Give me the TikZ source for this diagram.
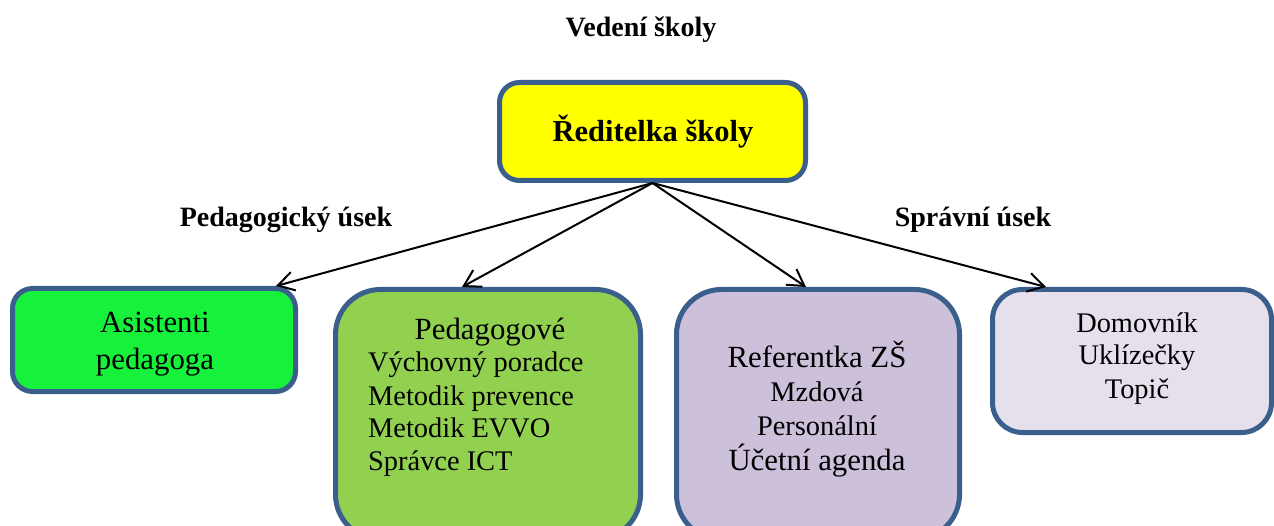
\documentclass[tikz,border=0pt]{standalone}
\usepackage{fontspec}
\setmainfont{Liberation Serif}
\usetikzlibrary{arrows.meta}
\definecolor{bord}{RGB}{58,95,140}
\definecolor{fyellow}{RGB}{255,255,0}
\definecolor{fgreen}{RGB}{22,242,60}
\definecolor{folive}{RGB}{146,208,80}
\definecolor{flilac}{RGB}{204,192,218}
\definecolor{fpale}{RGB}{229,224,236}
\begin{document}
\begin{tikzpicture}[x=1pt,y=-1pt,
  box/.style={draw=bord,line width=5pt,rounded corners=#1,inner sep=0pt},
  conn/.style={line width=2pt,-{Straight Barb[length=16pt,width=19pt,line width=2pt]}},
  hd/.style={anchor=base,font=\fontsize{28}{30}\selectfont\bfseries,inner sep=0pt},
  big/.style={anchor=base,font=\fontsize{30.8}{34}\selectfont,inner sep=0pt},
  txt/.style={anchor=base,font=\fontsize{28.4}{32}\selectfont,inner sep=0pt},
  txtl/.style={anchor=base west,font=\fontsize{28.4}{32}\selectfont,inner sep=0pt}]
\useasboundingbox (0,0) rectangle (1274,526);
\fill[white] (0,0) rectangle (1274,526);
\clip (0,0) rectangle (1274,526);

% boxes
\node[box=20pt,fill=fyellow,minimum width=306pt,minimum height=98pt] (top) at (652.5,131.5) {};
\node[box=20pt,fill=fgreen,minimum width=283pt,minimum height=103pt] (asis) at (154,340) {};
\node[box=45pt,fill=folive,minimum width=305pt,minimum height=250pt] (ped) at (488,414.5) {};
\node[box=45pt,fill=flilac,minimum width=283pt,minimum height=250pt] (ref) at (818,414.5) {};
\node[box=30pt,fill=fpale,minimum width=279pt,minimum height=143pt] (dom) at (1132,361) {};

% headings
\node[hd] (veden) at (641,37) {Vedení školy};
\node[hd] (pedu) at (286,227) {Pedagogický úsek};
\node[hd] (sprav) at (973,227) {Správní úsek};
\node[anchor=base,font=\fontsize{30.5}{33}\selectfont\bfseries,inner sep=0pt] (toptxt) at (653,142) {Ředitelka školy};

% texts
\node[big] (as1) at (155,333) {Asistenti};
\node[big] (as2) at (155,370) {pedagoga};

\node[big] (p1) at (490,340) {Pedagogové};
\node[txtl] (p2) at (368,372) {Výchovný poradce};
\node[txtl] (p3) at (368,405) {Metodik prevence};
\node[txtl] (p4) at (368,437) {Metodik EVVO};
\node[txtl] (p5) at (368,470) {Správce ICT};

\node[big] (r1) at (817,368) {Referentka ZŠ};
\node[txt] (r2) at (817,402) {Mzdová};
\node[txt] (r3) at (817,435) {Personální};
\node[big] (r4) at (817,470) {Účetní agenda};

\node[txt] (d1) at (1137,333) {Domovník};
\node[txt] (d2) at (1137,365) {Uklízečky};
\node[txt] (d3) at (1137,398) {Topič};

% connectors
\draw[conn] (top.south) -- ([xshift=-22pt]asis.north east);
\draw[conn] (top.south) -- ([xshift=-26pt]ped.north);
\draw[conn] (top.south) -- ([xshift=-12pt]ref.north);
\draw[conn] (top.south) -- ([xshift=56pt]dom.north west);
\end{tikzpicture}
\end{document}
